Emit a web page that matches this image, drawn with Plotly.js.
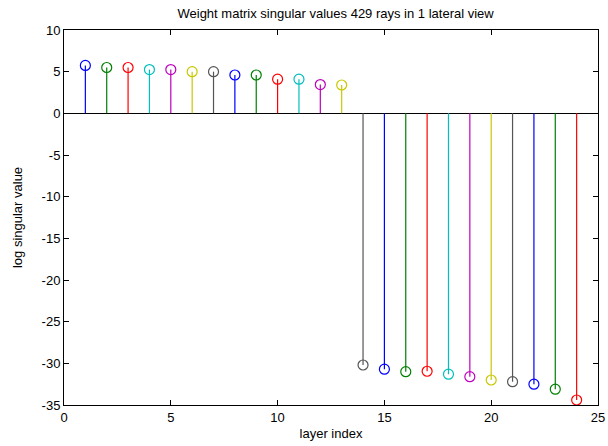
<!DOCTYPE html>
<html>
<head>
<meta charset="utf-8">
<script src="https://cdn.plot.ly/plotly-3.0.1.min.js"></script>
<style>html,body{margin:0;padding:0;background:#fff;}#chart{width:608px;height:446px;}</style>
</head>
<body>
<div id="chart"></div>
<script>
// Data
const layerIndex = [1,2,3,4,5,6,7,8,9,10,11,12,13,14,15,16,17,18,19,20,21,22,23,24];
const logSingular = [5.75,5.5,5.5,5.25,5.25,5.0,5.0,4.6,4.6,4.1,4.1,3.45,3.4,
                     -30.2,-30.7,-31.0,-30.95,-31.3,-31.6,-32.0,-32.2,-32.5,-33.1,-34.4];
const xTicks = [0,5,10,15,20,25];
const xTickText = ['0','5','10','15','20','25'];
const yTicks = [-35,-30,-25,-20,-15,-10,-5,0,5,10];
const yTickText = ['-35','-30','-25','-20','-15','-10','-5','0','5','10'];
// MATLAB colour cycle b g r c m y k
const colorCycle = ['#0000ff','#008000','#ff0000','#00bfbf','#bf00bf','#c8c800','#555555'];

const traces = [];
layerIndex.forEach((x, i) => {
  const c = colorCycle[i % colorCycle.length];
  traces.push({
    x: [x, x], y: [0, logSingular[i]],
    mode: 'lines', type: 'scatter',
    line: {color: c, width: 1.2},
    hoverinfo: 'skip', showlegend: false, cliponaxis: false
  });
  traces.push({
    x: [x], y: [logSingular[i]],
    mode: 'markers', type: 'scatter',
    marker: {symbol: 'circle-open', size: 10, color: c, line: {width: 1.2, color: c}},
    showlegend: false, cliponaxis: false
  });
});

const axisFont = {family: 'Liberation Sans, Arial, sans-serif', size: 13, color: '#000'};
const layout = {
  width: 608, height: 446,
  margin: {l: 64, r: 10, t: 30, b: 41},
  paper_bgcolor: '#fff', plot_bgcolor: '#fff',
  font: axisFont,
  title: {text: 'Weight matrix singular values 429 rays in 1 lateral view',
          font: {family: 'Liberation Sans, Arial, sans-serif', size: 13, color: '#000'},
          x: 0.552, xanchor: 'center', y: 0.97, yanchor: 'middle', yref: 'container'},
  xaxis: {
    range: [0, 25], tickmode: 'array', tickvals: xTicks, ticktext: xTickText,
    ticks: 'inside', ticklen: 5, ticklabeloverflow: 'allow',
    tickcolor: '#000', showline: true, linecolor: '#000', linewidth: 1, mirror: 'ticks',
    showgrid: false, zeroline: false, tickfont: axisFont,
    title: {text: 'layer index', font: axisFont, standoff: 5}
  },
  yaxis: {
    range: [-35, 10], tickmode: 'array', tickvals: yTicks, ticktext: yTickText,
    ticks: 'inside', ticklen: 5,
    tickcolor: '#000', showline: true, linecolor: '#000', linewidth: 1, mirror: 'ticks',
    showgrid: false, zeroline: true, zerolinecolor: '#000', zerolinewidth: 1,
    tickfont: axisFont,
    title: {text: 'log singular value', font: axisFont, standoff: 16}
  }
};
Plotly.newPlot('chart', traces, layout, {displayModeBar: false, staticPlot: true});
</script>
</body>
</html>
